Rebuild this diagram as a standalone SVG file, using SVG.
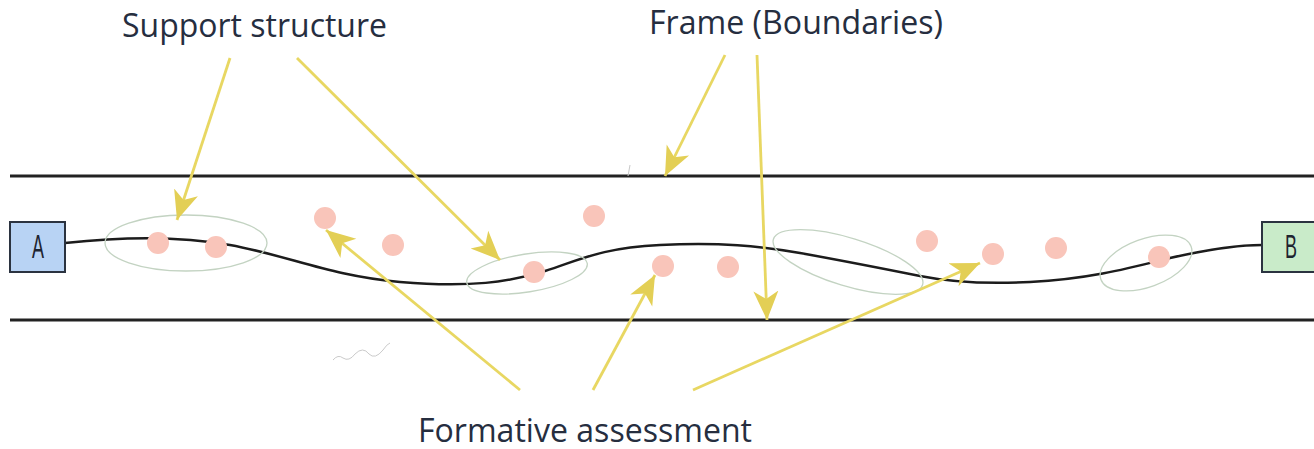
<svg xmlns="http://www.w3.org/2000/svg" width="1314" height="449" viewBox="0 0 1314 449">
<style>
.lbl{font-family:"Open Sans","Liberation Sans",sans-serif;font-size:32px;fill:#262e3f}
.rail{stroke:#222;stroke-width:3;fill:none}
.path{stroke:#1c1c1c;stroke-width:2.5;fill:none}
.grp{fill:none;stroke:#c3d3c2;stroke-width:1.3}
.dot{fill:#f9c5ba}
.arr{stroke:#e8d762;stroke-width:2.8;fill:none;marker-end:url(#ah)}
.box text{font-family:"Liberation Sans",sans-serif;font-size:34px;fill:#1e2430}
</style>
<defs>
<marker id="ah" markerUnits="userSpaceOnUse" viewBox="0 -14 32 28" markerWidth="32" markerHeight="28" refX="29" refY="0" orient="auto">
<path d="M0,-12.5 L29,0 L0,12.5 L8,0 Z" fill="#e3cf55"/>
</marker>
</defs>
<rect width="1314" height="449" fill="#fff"/>
<g id="frame">
<line class="rail" x1="10" y1="176" x2="1314" y2="176"/>
<line class="rail" x1="10" y1="320" x2="1314" y2="320"/>
</g>
<g id="learning-path">
<path class="path" d="M65,243 C110,238 170,234 230,245 C290,256 330,276 400,282 C470,288 510,282 545,271 C580,260 600,248 660,245 C720,242 760,246 800,253 C850,262 890,270 920,276 C950,282 990,284 1030,282 C1090,279 1130,268 1170,258 C1210,249 1240,245 1262,245"/>
</g>
<g id="support-groups">
<ellipse class="grp" cx="186" cy="243" rx="81" ry="28"/>
<ellipse class="grp" cx="527" cy="273" rx="61" ry="19" transform="rotate(-9 527 273)"/>
<ellipse class="grp" cx="848" cy="262" rx="78" ry="24" transform="rotate(17 848 262)"/>
<ellipse class="grp" cx="1146" cy="263" rx="48" ry="24" transform="rotate(-20 1146 263)"/>
</g>
<g id="assessments">
<circle class="dot" cx="158" cy="243" r="11"/>
<circle class="dot" cx="216" cy="247" r="11"/>
<circle class="dot" cx="325" cy="218" r="11"/>
<circle class="dot" cx="393" cy="245" r="11"/>
<circle class="dot" cx="594" cy="216" r="11"/>
<circle class="dot" cx="534" cy="272" r="11"/>
<circle class="dot" cx="663" cy="266" r="11"/>
<circle class="dot" cx="728" cy="267" r="11"/>
<circle class="dot" cx="927" cy="241" r="11"/>
<circle class="dot" cx="993" cy="254" r="11"/>
<circle class="dot" cx="1056" cy="248" r="11"/>
<circle class="dot" cx="1159" cy="257" r="11"/>
</g>
<g id="nodeA" class="box">
<rect x="10" y="222" width="55" height="50" fill="#b8d3f4" stroke="#2b3340" stroke-width="2"/>
<text x="32" y="258" textLength="12" lengthAdjust="spacingAndGlyphs">A</text>
</g>
<g id="nodeB" class="box">
<rect x="1262" y="222" width="54" height="50" fill="#c9ebc9" stroke="#2b3340" stroke-width="2"/>
<text x="1285" y="258" textLength="12" lengthAdjust="spacingAndGlyphs">B</text>
</g>
<g id="connectors">
<line class="arr" x1="230" y1="58" x2="177" y2="220"/>
<line class="arr" x1="297" y1="58" x2="500" y2="260"/>
<line class="arr" x1="725" y1="55" x2="665" y2="176"/>
<line class="arr" x1="757" y1="55" x2="767" y2="320"/>
<line class="arr" x1="520" y1="390" x2="326" y2="230"/>
<line class="arr" x1="593" y1="390" x2="655" y2="275"/>
<line class="arr" x1="693" y1="390" x2="980" y2="263"/>
</g>
<g id="marks">
<path d="M333,360 q5,-6 10,-2 q6,4 12,-4 q8,-8 14,0 q6,6 14,-4 q4,-6 7,-7" fill="none" stroke="#c4c4c4" stroke-width="0.9"/>
<line x1="630" y1="165" x2="628" y2="176" stroke="#c8c8c8" stroke-width="1"/>
</g>
<g id="label-support">
<text class="lbl" x="122" y="37" textLength="265" lengthAdjust="spacingAndGlyphs">Support structure</text>
</g>
<g id="label-frame">
<text class="lbl" x="649" y="34" textLength="294" lengthAdjust="spacingAndGlyphs">Frame (Boundaries)</text>
</g>
<g id="label-formative">
<text class="lbl" x="418" y="442" textLength="334" lengthAdjust="spacingAndGlyphs">Formative assessment</text>
</g>
</svg>
